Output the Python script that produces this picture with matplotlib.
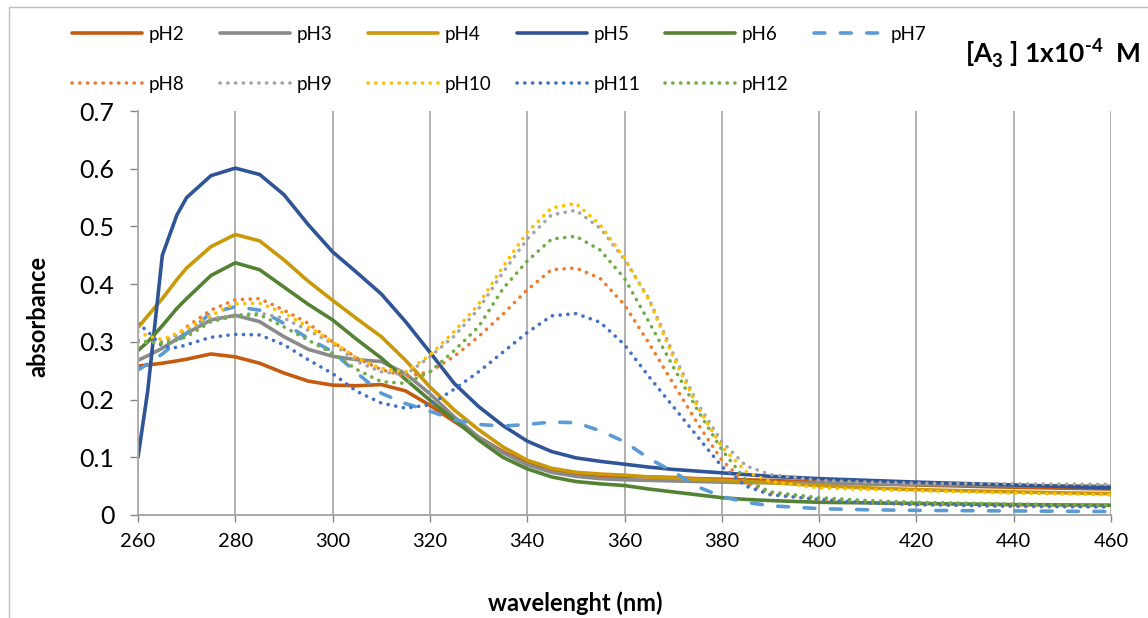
import matplotlib
matplotlib.use('Agg')
import matplotlib.pyplot as plt
from matplotlib.patches import Rectangle

# wavelength (nm)
wl = [260, 262, 265, 268, 270, 275, 280, 285, 290, 295, 300, 305, 310, 315, 320, 325, 330,
      335, 340, 345, 350, 355, 360, 365, 370, 375, 380, 385, 390, 400, 410, 420, 440, 460]

ph2 = [0.258, 0.260, 0.263, 0.267, 0.270, 0.279, 0.274, 0.263, 0.246, 0.232, 0.225, 0.224, 0.226,
       0.215, 0.190, 0.162, 0.135, 0.110, 0.090, 0.078, 0.071, 0.068, 0.067, 0.066, 0.065, 0.063,
       0.062, 0.061, 0.060, 0.057, 0.054, 0.052, 0.048, 0.045]
ph3 = [0.268, 0.276, 0.289, 0.305, 0.315, 0.338, 0.346, 0.335, 0.309, 0.287, 0.275, 0.269, 0.266,
       0.245, 0.210, 0.170, 0.135, 0.108, 0.087, 0.074, 0.067, 0.063, 0.061, 0.060, 0.059, 0.058,
       0.057, 0.056, 0.056, 0.055, 0.054, 0.053, 0.051, 0.050]
ph4 = [0.325, 0.345, 0.375, 0.408, 0.428, 0.465, 0.486, 0.475, 0.442, 0.405, 0.372, 0.340, 0.309,
       0.268, 0.222, 0.182, 0.148, 0.118, 0.095, 0.081, 0.074, 0.071, 0.069, 0.066, 0.064, 0.062,
       0.060, 0.058, 0.056, 0.051, 0.047, 0.044, 0.040, 0.037]
ph5 = [0.100, 0.215, 0.450, 0.520, 0.550, 0.588, 0.601, 0.590, 0.555, 0.503, 0.456, 0.420, 0.383,
       0.335, 0.282, 0.228, 0.188, 0.155, 0.128, 0.110, 0.099, 0.093, 0.088, 0.083, 0.079, 0.076,
       0.073, 0.070, 0.067, 0.063, 0.060, 0.057, 0.052, 0.047]
ph6 = [0.285, 0.300, 0.328, 0.358, 0.375, 0.415, 0.437, 0.425, 0.395, 0.365, 0.338, 0.304, 0.272,
       0.235, 0.199, 0.165, 0.130, 0.100, 0.080, 0.066, 0.058, 0.054, 0.051, 0.045, 0.040, 0.035,
       0.030, 0.027, 0.025, 0.022, 0.021, 0.020, 0.018, 0.017]
ph7 = [0.251, 0.262, 0.279, 0.300, 0.315, 0.350, 0.361, 0.355, 0.332, 0.306, 0.283, 0.246, 0.211,
       0.193, 0.180, 0.165, 0.157, 0.154, 0.157, 0.161, 0.160, 0.146, 0.127, 0.098, 0.075, 0.049,
       0.032, 0.022, 0.016, 0.011, 0.009, 0.008, 0.007, 0.006]
ph8 = [0.300, 0.299, 0.299, 0.312, 0.326, 0.355, 0.373, 0.375, 0.355, 0.332, 0.300, 0.272, 0.252,
       0.240, 0.248, 0.275, 0.309, 0.348, 0.390, 0.425, 0.428, 0.410, 0.364, 0.298, 0.228, 0.159,
       0.095, 0.055, 0.038, 0.027, 0.022, 0.019, 0.017, 0.015]
ph9 = [0.300, 0.300, 0.300, 0.312, 0.320, 0.341, 0.346, 0.350, 0.341, 0.320, 0.297, 0.266, 0.248,
       0.243, 0.274, 0.310, 0.357, 0.420, 0.478, 0.520, 0.528, 0.497, 0.443, 0.375, 0.280, 0.193,
       0.127, 0.085, 0.070, 0.060, 0.057, 0.055, 0.054, 0.053]
ph10 = [0.318, 0.310, 0.304, 0.315, 0.323, 0.346, 0.366, 0.367, 0.350, 0.326, 0.300, 0.272, 0.254,
        0.248, 0.277, 0.318, 0.365, 0.430, 0.490, 0.532, 0.540, 0.503, 0.445, 0.373, 0.274, 0.188,
        0.118, 0.075, 0.058, 0.047, 0.044, 0.042, 0.038, 0.035]
ph11 = [0.332, 0.318, 0.292, 0.290, 0.295, 0.308, 0.313, 0.312, 0.295, 0.269, 0.245, 0.214, 0.194,
        0.185, 0.191, 0.218, 0.248, 0.282, 0.316, 0.345, 0.349, 0.334, 0.295, 0.240, 0.188, 0.136,
        0.084, 0.050, 0.035, 0.027, 0.021, 0.018, 0.015, 0.014]
ph12 = [0.303, 0.300, 0.297, 0.303, 0.309, 0.335, 0.345, 0.347, 0.326, 0.303, 0.280, 0.252, 0.231,
        0.228, 0.248, 0.285, 0.326, 0.392, 0.440, 0.478, 0.483, 0.459, 0.410, 0.335, 0.257, 0.182,
        0.113, 0.060, 0.040, 0.030, 0.025, 0.022, 0.019, 0.017]

labels = ['pH2', 'pH3', 'pH4', 'pH5', 'pH6', 'pH7', 'pH8', 'pH9', 'pH10', 'pH11', 'pH12']
colors = ['#C55A11', '#8A8A8A', '#C9990A', '#2F5597', '#548235', '#5B9BD5',
          '#ED7D31', '#A5A5A5', '#FFC000', '#4472C4', '#70AD47']
styles = ['-', '-', '-', '-', '-', (0, (3.0, 4.3)),
          (0, (0.05, 2.1)), (0, (0.05, 2.1)), (0, (0.05, 2.1)), (0, (0.05, 2.1)), (0, (0.05, 2.1))]

xticks = [260, 280, 300, 320, 340, 360, 380, 400, 420, 440, 460]
yticks = [0, 0.1, 0.2, 0.3, 0.4, 0.5, 0.6, 0.7]
ytick_labels = ['0', '0.1', '0.2', '0.3', '0.4', '0.5', '0.6', '0.7']


def main():
    plt.rcParams['font.family'] = ['Lato', 'DejaVu Sans']
    plt.rcParams['mathtext.fontset'] = 'custom'
    plt.rcParams['mathtext.rm'] = 'Lato'
    plt.rcParams['mathtext.bf'] = 'Lato:bold'

    fig = plt.figure(figsize=(11.48, 6.18), dpi=100)
    ax = fig.add_axes([138 / 1148, 1 - 515 / 618, (1111 - 138) / 1148, (515 - 111) / 618])

    series = [ph2, ph3, ph4, ph5, ph6, ph7, ph8, ph9, ph10, ph11, ph12]
    lines = []
    for ys, lab, col, ls in zip(series, labels, colors, styles):
        ln, = ax.plot(wl, ys, color=col, linestyle=ls, lw=2.6, label=lab,
                      dash_capstyle='round', solid_capstyle='round')
        lines.append(ln)

    ax.set_xlim(260, 460)
    ax.set_ylim(0, 0.7)
    ax.set_xticks(xticks)
    ax.set_yticks(yticks)
    ax.set_yticklabels(ytick_labels)
    ax.tick_params(axis='y', labelsize=18, length=6, width=1, color='#868686', pad=11)
    ax.tick_params(axis='x', labelsize=14.5, length=5, width=1, color='#868686', pad=8)

    ax.grid(axis='x', color='#ababab', lw=1.3)
    for s in ['top', 'right']:
        ax.spines[s].set_visible(False)
    ax.spines['left'].set_color('#ababab')
    ax.spines['left'].set_linewidth(1.3)
    ax.spines['bottom'].set_color('#a0a0a0')
    ax.spines['bottom'].set_linewidth(1.3)

    fig.text(38 / 1148, 1 - 316 / 618, 'absorbance', rotation=90, ha='center', va='center',
             fontsize=17, fontweight='bold')
    fig.text(575 / 1148, 1 - 603 / 618, 'wavelenght (nm)', ha='center', va='center',
             fontsize=17, fontweight='bold')
    fig.text(1140 / 1148, 1 - 53 / 618, '[A$_\\mathbf{3}$ ] 1x10$^\\mathbf{\u20104}$  M',
             ha='right', va='center', fontsize=19, fontweight='bold')

    # one small legend per column so the columns stay evenly spaced
    col_x = [72, 220, 368, 517, 665, 814]
    for c in range(6):
        idx = [i for i in (c, c + 6) if i < len(labels)]
        fig.legend([lines[i] for i in idx], [labels[i] for i in idx],
                   loc='upper left', bbox_to_anchor=(col_x[c] / 1148, 1 - 26 / 618),
                   frameon=False, fontsize=13.5, handlelength=3.75, handletextpad=0.35,
                   labelspacing=1.75, borderaxespad=0, borderpad=0)

    fig.add_artist(Rectangle((8.5 / 1148, -0.1), 1.2, 1.1 - 7 / 618, transform=fig.transFigure,
                             fill=False, edgecolor='#bfbfbf', lw=1))

    plt.savefig('out.png', dpi=100)


if __name__ == '__main__':
    main()
